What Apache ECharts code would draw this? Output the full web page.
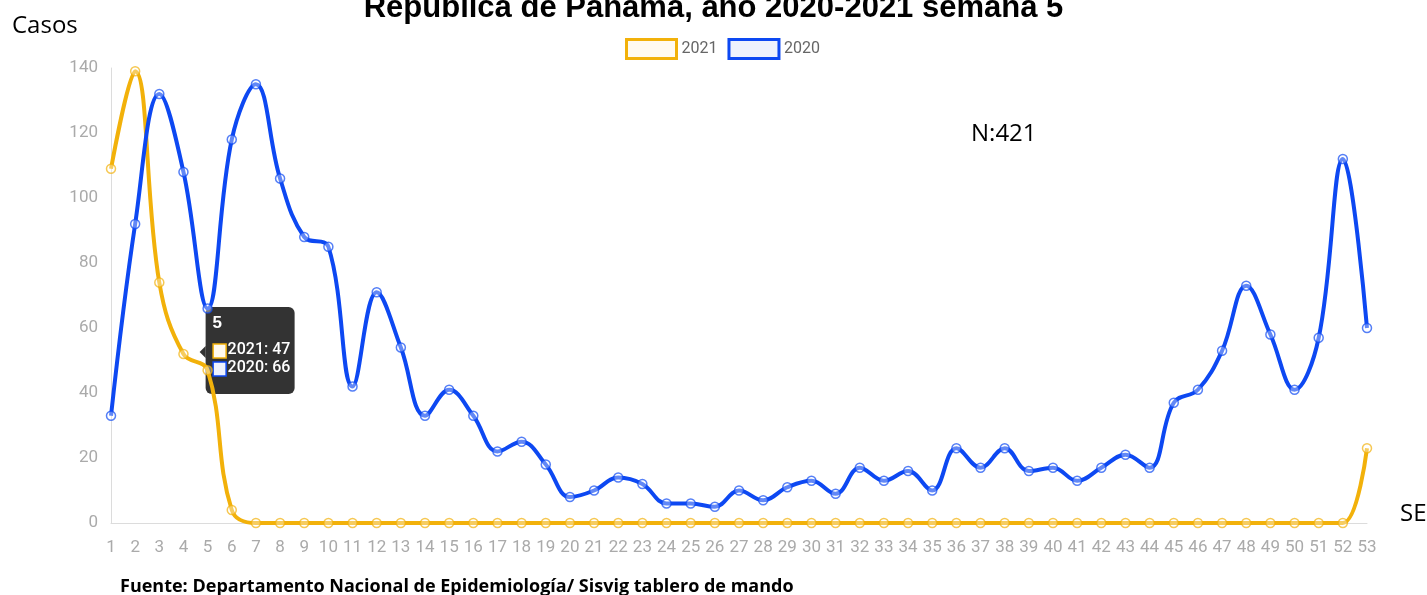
<!DOCTYPE html>
<html>
<head>
<meta charset="utf-8">
<script src="https://cdn.jsdelivr.net/npm/echarts@6/dist/echarts.min.js"></script>
<style>
  html, body { margin: 0; padding: 0; background: #fff; }
  #chart { width: 1427px; height: 595px; }
</style>
</head>
<body>
<div id="chart"></div>
<script>
const weeks = ['1', '2', '3', '4', '5', '6', '7', '8', '9', '10', '11', '12', '13', '14', '15', '16', '17', '18',
  '19', '20', '21', '22', '23', '24', '25', '26', '27', '28', '29', '30', '31', '32', '33', '34', '35', '36',
  '37', '38', '39', '40', '41', '42', '43', '44', '45', '46', '47', '48', '49', '50', '51', '52', '53'];

const cases2021 = [109, 139, 74, 52, 47, 4, 0, 0, 0, 0, 0, 0, 0, 0, 0, 0, 0, 0, 0, 0, 0, 0, 0, 0, 0, 0, 0,
  0, 0, 0, 0, 0, 0, 0, 0, 0, 0, 0, 0, 0, 0, 0, 0, 0, 0, 0, 0, 0, 0, 0, 0, 0, 23];

const cases2020 = [33, 92, 132, 108, 66, 118, 135, 106, 88, 85, 42, 71, 54, 33, 41, 33, 22, 25, 18, 8, 10,
  14, 12, 6, 6, 5, 10, 7, 11, 13, 9, 17, 13, 16, 10, 23, 17, 23, 16, 17, 13, 17, 21, 17, 37, 41, 53, 73,
  58, 41, 57, 112, 60];

const yTicks = [0, 20, 40, 60, 80, 100, 120, 140];

const tipWeek = 4; // semana 5

const YELLOW = '#f2b10a';
const BLUE = '#0d48f2';
const LABEL_FONT = "'Roboto', sans-serif";

const chart = echarts.init(document.getElementById('chart'));

function lineSeries(name, data, color) {
  return {
    name,
    type: 'line',
    data,
    smooth: 0.4,
    symbol: 'circle',
    symbolSize: 9,
    showSymbol: true,
    lineStyle: { color, width: 4 },
    itemStyle: { color: 'rgba(255,255,255,0.5)', borderColor: color, borderWidth: 1.5, opacity: 0.7 },
    emphasis: { disabled: true }
  };
}

chart.setOption({
  animation: false,
  title: [
    {
      text: 'República de Panamá, año 2020-2021 semana 5',
      left: 'center',
      top: -12,
      textStyle: { fontFamily: 'Liberation Sans, Arial, sans-serif', fontSize: 31, fontWeight: 'bold', color: '#000' }
    },
    {
      text: 'Casos',
      left: 7,
      top: 9,
      textStyle: { fontFamily: 'Open Sans, sans-serif', fontSize: 24, fontWeight: 'normal', color: '#000' }
    },
    {
      text: 'N:421',
      left: 966,
      top: 117,
      textStyle: { fontFamily: 'Open Sans, sans-serif', fontSize: 24, fontWeight: 'normal', color: '#000' }
    },
    {
      text: 'SE',
      left: 1395,
      top: 497,
      textStyle: { fontFamily: 'Open Sans, sans-serif', fontSize: 24, fontWeight: 'normal', color: '#000' }
    },
    {
      text: 'Fuente: Departamento Nacional de Epidemiología/ Sisvig tablero de mando',
      left: 115,
      top: 573,
      textStyle: { fontFamily: 'Open Sans, sans-serif', fontSize: 18, fontWeight: 'bold', color: '#000' }
    }
  ],
  legend: {
    top: 33,
    left: 620,
    icon: 'rect',
    itemWidth: 50,
    itemHeight: 19,
    itemGap: 10,
    textStyle: { fontFamily: LABEL_FONT, fontSize: 16, color: '#666' },
    data: [
      { name: '2021', itemStyle: { color: '#fffaf0', borderColor: YELLOW, borderWidth: 3, opacity: 1 } },
      { name: '2020', itemStyle: { color: '#eef2fd', borderColor: BLUE, borderWidth: 3, opacity: 1 } }
    ]
  },
  grid: { left: 111, right: 60, top: 68, bottom: 72, containLabel: false },
  xAxis: {
    type: 'category',
    data: weeks,
    boundaryGap: false,
    axisLine: { show: true, lineStyle: { color: '#dcdcdc', width: 1 } },
    axisTick: { show: false },
    axisLabel: { color: '#aaa', fontFamily: LABEL_FONT, fontSize: 17, margin: 16, interval: 0 },
    splitLine: { show: false }
  },
  yAxis: {
    type: 'value',
    min: yTicks[0],
    max: yTicks[yTicks.length - 1],
    interval: yTicks[1] - yTicks[0],
    axisLine: { show: true, lineStyle: { color: '#dcdcdc', width: 1 } },
    axisTick: { show: false },
    axisLabel: { color: '#aaa', fontFamily: LABEL_FONT, fontSize: 17, margin: 13 },
    splitLine: { show: false }
  },
  series: [
    lineSeries('2021', cases2021, YELLOW),
    lineSeries('2020', cases2020, BLUE)
  ]
});

// tooltip fijo en la semana 5, anclado al punto del gráfico
const [px] = chart.convertToPixel({ xAxisIndex: 0, yAxisIndex: 0 }, [tipWeek, 0]);
const boxX = px - 2;
const boxY = 307;
const boxW = 89;
const boxH = 87;

chart.setOption({
  graphic: [
    {
      type: 'group',
      z: 100,
      children: [
        {
          type: 'polygon',
          shape: { points: [[boxX, boxY + 39], [boxX - 6, boxY + 45], [boxX, boxY + 51]] },
          style: { fill: 'rgba(0,0,0,0.8)' }
        },
        {
          type: 'rect',
          shape: { x: boxX, y: boxY, width: boxW, height: boxH, r: 6 },
          style: { fill: 'rgba(0,0,0,0.8)' }
        },
        {
          type: 'text',
          x: boxX + 7, y: boxY + 8,
          style: { text: weeks[tipWeek], fill: '#fff', font: 'bold 17px Liberation Sans, Arial, sans-serif' }
        },
        {
          type: 'rect',
          shape: { x: boxX + 7.5, y: boxY + 37, width: 13, height: 14 },
          style: { fill: '#fffaf0', stroke: YELLOW, lineWidth: 1.5 }
        },
        {
          type: 'text',
          x: boxX + 22, y: boxY + 35,
          style: { text: '2021: ' + cases2021[tipWeek], fill: '#fff', font: '500 16px ' + LABEL_FONT }
        },
        {
          type: 'rect',
          shape: { x: boxX + 7.5, y: boxY + 55, width: 13, height: 14 },
          style: { fill: '#eef2fd', stroke: BLUE, lineWidth: 1.5 }
        },
        {
          type: 'text',
          x: boxX + 22, y: boxY + 53,
          style: { text: '2020: ' + cases2020[tipWeek], fill: '#fff', font: '500 16px ' + LABEL_FONT }
        }
      ]
    }
  ]
});
</script>
</body>
</html>
